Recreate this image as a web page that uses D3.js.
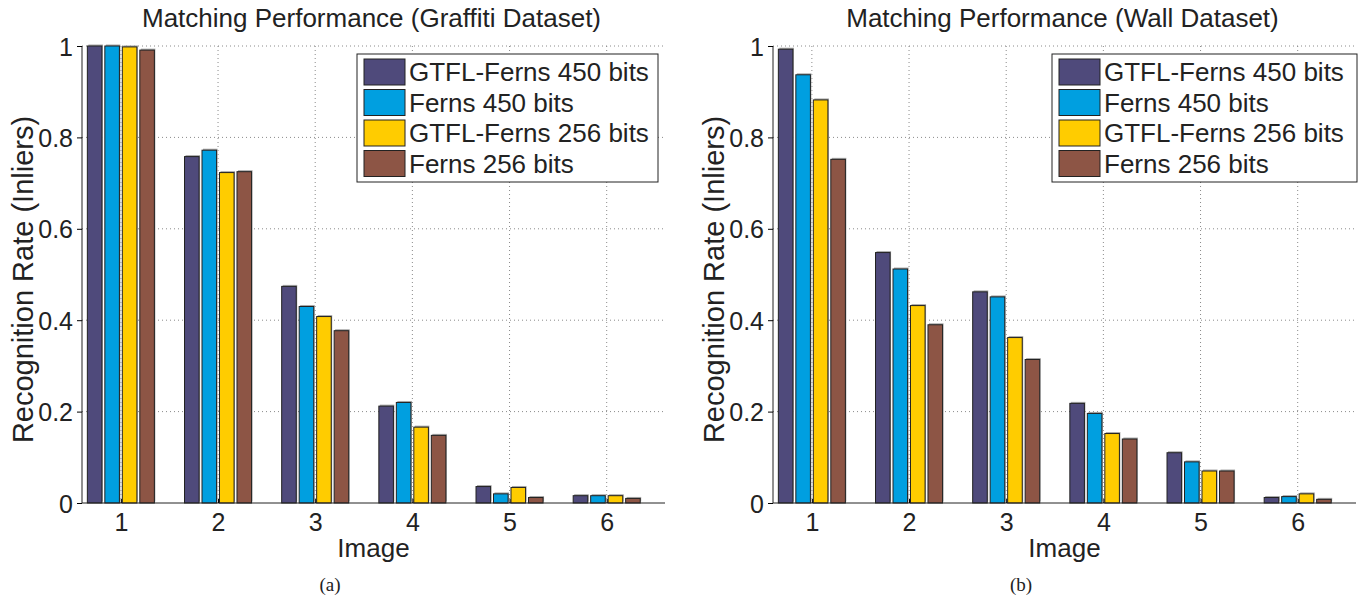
<!DOCTYPE html>
<html lang="en">
<head>
    <meta charset="UTF-8">
    <title>Matching Performance</title>
    <script src="https://d3js.org/d3.v7.min.js"></script>
    <style>
        body { margin: 0; background: #fff; }
        text { font-family: "Liberation Sans", Arial, sans-serif; fill: #222; }
    </style>
</head>
<body>
<script>
    // categories and tick labels
    var images = [1, 2, 3, 4, 5, 6];
    var yTicks = [0, 0.2, 0.4, 0.6, 0.8, 1];
    var yTickLabels = ["0", "0.2", "0.4", "0.6", "0.8", "1"];
    var seriesNames = ["GTFL-Ferns 450 bits", "Ferns 450 bits", "GTFL-Ferns 256 bits", "Ferns 256 bits"];
    var seriesColors = ["#4f4a7b", "#009fe0", "#ffcc00", "#8d5545"];

    // Graffiti dataset
    var graffitiGtfl450 = [1.000, 0.758, 0.474, 0.212, 0.036, 0.016];
    var graffitiFerns450 = [1.000, 0.772, 0.430, 0.220, 0.020, 0.016];
    var graffitiGtfl256 = [0.998, 0.723, 0.408, 0.166, 0.034, 0.016];
    var graffitiFerns256 = [0.991, 0.725, 0.377, 0.148, 0.012, 0.010];

    // Wall dataset
    var wallGtfl450 = [0.993, 0.548, 0.462, 0.218, 0.110, 0.012];
    var wallFerns450 = [0.937, 0.512, 0.451, 0.196, 0.090, 0.014];
    var wallGtfl256 = [0.882, 0.432, 0.362, 0.152, 0.070, 0.020];
    var wallFerns256 = [0.752, 0.390, 0.314, 0.140, 0.070, 0.008];

    var panels = [
        {title: "Matching Performance (Graffiti Dataset)", caption: "(a)",
         series: [graffitiGtfl450, graffitiFerns450, graffitiGtfl256, graffitiFerns256],
         left: 82, right: 665, legendX: 357, legendW: 301, captionX: 330},
        {title: "Matching Performance (Wall Dataset)", caption: "(b)",
         series: [wallGtfl450, wallFerns450, wallGtfl256, wallFerns256],
         left: 773, right: 1356, legendX: 1052, legendW: 305, captionX: 1021}
    ];

    var plotTop = 46, plotBottom = 503;

    var svg = d3.select("body").append("svg")
        .attr("width", 1367)
        .attr("height", 600);

    panels.forEach(function(p) {
        var x = d3.scaleLinear().domain([0.6, 6.6]).range([p.left, p.right]);
        var y = d3.scaleLinear().domain([0, 1]).range([plotBottom, plotTop]);
        var g = svg.append("g");

        // dotted grid
        g.selectAll(".hgrid")
            .data(yTicks.slice(1))
            .enter().append("line")
            .attr("x1", p.left).attr("x2", p.right)
            .attr("y1", function(d) { return y(d); })
            .attr("y2", function(d) { return y(d); })
            .attr("stroke", "#8a8a8a")
            .attr("stroke-dasharray", "1,3");
        g.selectAll(".vgrid")
            .data(images)
            .enter().append("line")
            .attr("x1", function(d) { return x(d); })
            .attr("x2", function(d) { return x(d); })
            .attr("y1", plotTop).attr("y2", plotBottom)
            .attr("stroke", "#8a8a8a")
            .attr("stroke-dasharray", "1,3");

        // bars, 4 per image
        var pitch = 0.18, barW = 0.15;
        p.series.forEach(function(vals, si) {
            var off = (si - 1.5) * pitch - barW / 2;
            g.selectAll(".shadow" + si)
                .data(vals)
                .enter().append("rect")
                .attr("x", function(d, i) { return x(images[i] + off) + 1; })
                .attr("y", function(d) { return y(d) - 1.5; })
                .attr("width", x(barW) - x(0))
                .attr("height", function(d) { return plotBottom - y(d); })
                .attr("fill", "#aaa");
            g.selectAll(".bar" + si)
                .data(vals)
                .enter().append("rect")
                .attr("x", function(d, i) { return x(images[i] + off); })
                .attr("y", function(d) { return y(d); })
                .attr("width", x(barW) - x(0))
                .attr("height", function(d) { return plotBottom - y(d); })
                .attr("fill", seriesColors[si])
                .attr("stroke", "#222")
                .attr("stroke-width", 1);
        });

        // axes
        var yAxis = d3.axisLeft(y).tickValues(yTicks)
            .tickFormat(function(d, i) { return yTickLabels[i]; })
            .tickSize(5).tickPadding(4);
        var ya = g.append("g")
            .attr("transform", "translate(" + p.left + ",0)")
            .call(yAxis);
        ya.select(".domain").attr("d", "M0," + plotTop + "V" + plotBottom).attr("stroke", "#222");
        ya.selectAll("text").style("font-size", "25px").attr("dy", "0.36em");

        var xAxis = d3.axisBottom(x).tickValues(images).tickFormat(d3.format("d"))
            .tickSize(-4).tickPadding(10);
        var xa = g.append("g")
            .attr("transform", "translate(0," + plotBottom + ")")
            .call(xAxis);
        xa.select(".domain").attr("d", "M" + p.left + ",0H" + p.right).attr("stroke", "#222");
        xa.selectAll("text").style("font-size", "25px");

        // titles and labels
        var cx = (p.left + p.right) / 2;
        g.append("text")
            .attr("x", cx - 2).attr("y", 27)
            .attr("text-anchor", "middle")
            .style("font-size", "26px")
            .text(p.title);
        g.append("text")
            .attr("x", cx).attr("y", 557)
            .attr("text-anchor", "middle")
            .style("font-size", "26px")
            .text("Image");
        g.append("text")
            .attr("transform", "translate(" + (p.left - 49) + "," + ((plotTop + plotBottom) / 2 + 5) + ") rotate(-90)")
            .attr("text-anchor", "middle")
            .style("font-size", "29px")
            .text("Recognition Rate (Inliers)");
        g.append("text")
            .attr("x", p.captionX).attr("y", 591)
            .attr("text-anchor", "middle")
            .style("font-family", "'Liberation Serif', 'Times New Roman', serif")
            .style("font-size", "19px")
            .text(p.caption);

        // legend
        var lg = g.append("g").attr("transform", "translate(" + p.legendX + ",54)");
        lg.append("rect")
            .attr("width", p.legendW).attr("height", 128)
            .attr("fill", "#fff").attr("stroke", "#222");
        seriesNames.forEach(function(name, i) {
            lg.append("rect")
                .attr("x", 7).attr("y", 5 + i * 30.5)
                .attr("width", 41).attr("height", 26)
                .attr("fill", seriesColors[i])
                .attr("stroke", "#222");
            lg.append("text")
                .attr("x", 52).attr("y", 27 + i * 30.5)
                .style("font-size", "26px")
                .text(name);
        });
    });
</script>
</body>
</html>
